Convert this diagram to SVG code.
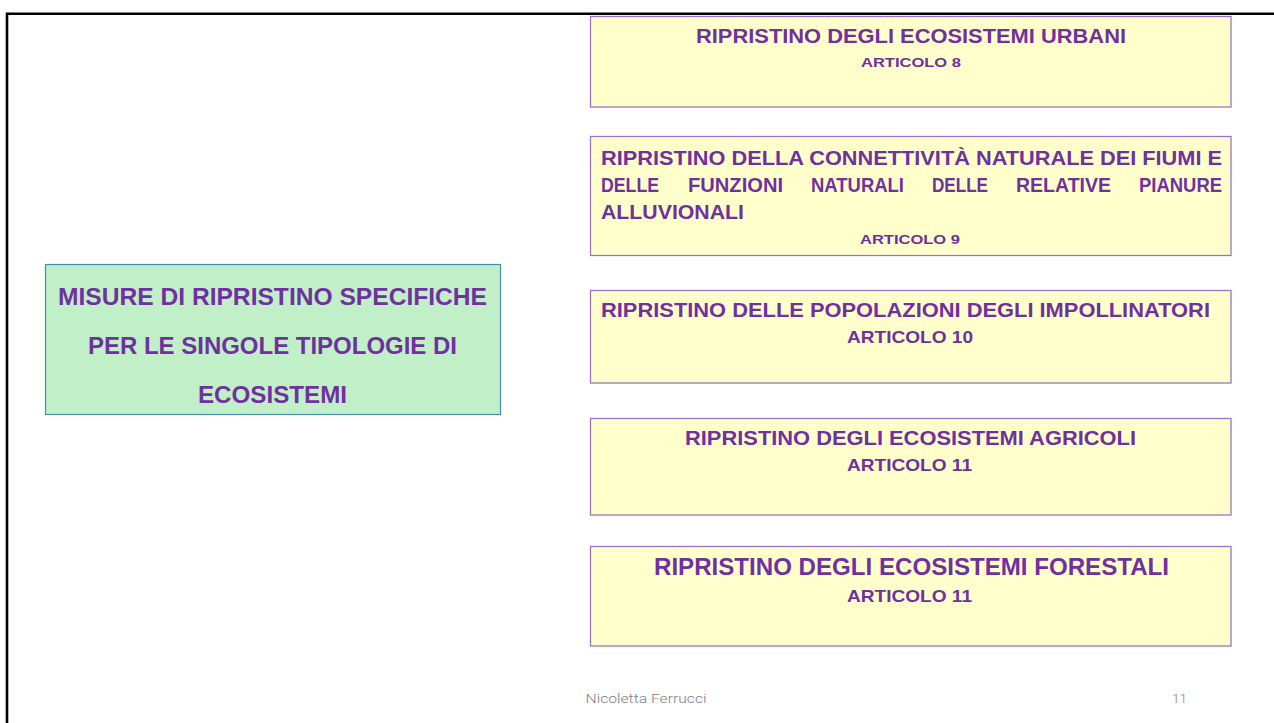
<svg xmlns="http://www.w3.org/2000/svg" width="1274" height="723" viewBox="0 0 1274 723">
  <style>
    .ybox { fill: #ffffcc; stroke: #9e72c6; stroke-width: 1.3; }
    .gbox { fill: #c1f0c8; stroke: #3e8fb0; stroke-width: 1.2; }
    .t { font-family: "Liberation Sans", Arial, sans-serif; font-weight: bold; fill: #7030a0; }
    .foot { font-family: Roboto, "Liberation Sans", sans-serif; font-weight: 300; fill: #808080; font-size: 13px; }
  </style>
  <rect width="1274" height="723" fill="#ffffff"/>
  <g id="frame">
    <path d="M7 723 V13.8 H1274" fill="none" stroke="#000" stroke-width="2.6"/>
  </g>
  <g id="connectors"></g>
  <g id="main">
    <rect class="gbox" x="45.5" y="264.5" width="455" height="150"/>
    <text class="t" x="58" y="305" font-size="23.5" textLength="429" lengthAdjust="spacingAndGlyphs">MISURE DI RIPRISTINO SPECIFICHE</text>
    <text class="t" x="88" y="354" font-size="23.5" textLength="369" lengthAdjust="spacingAndGlyphs">PER LE SINGOLE TIPOLOGIE DI</text>
    <text class="t" x="198" y="403" font-size="23.5" textLength="149" lengthAdjust="spacingAndGlyphs">ECOSISTEMI</text>
  </g>
  <g id="art8">
    <rect class="ybox" x="590.5" y="16.5" width="640.5" height="90.5"/>
    <text class="t" x="696" y="43" font-size="20" textLength="430" lengthAdjust="spacingAndGlyphs">RIPRISTINO DEGLI ECOSISTEMI URBANI</text>
    <text class="t" x="861" y="67" font-size="13" textLength="100" lengthAdjust="spacingAndGlyphs">ARTICOLO 8</text>
  </g>
  <g id="art9">
    <rect class="ybox" x="590.5" y="136.5" width="640.5" height="119"/>
    <text class="t" x="601" y="165" font-size="20" textLength="621" lengthAdjust="spacingAndGlyphs">RIPRISTINO DELLA CONNETTIVITÀ NATURALE DEI FIUMI E</text>
    <text class="t" y="192" font-size="20">
      <tspan x="601" textLength="58" lengthAdjust="spacingAndGlyphs">DELLE</tspan>
      <tspan x="688" textLength="95" lengthAdjust="spacingAndGlyphs">FUNZIONI</tspan>
      <tspan x="811" textLength="93" lengthAdjust="spacingAndGlyphs">NATURALI</tspan>
      <tspan x="932" textLength="56" lengthAdjust="spacingAndGlyphs">DELLE</tspan>
      <tspan x="1016" textLength="95" lengthAdjust="spacingAndGlyphs">RELATIVE</tspan>
      <tspan x="1139" textLength="83" lengthAdjust="spacingAndGlyphs">PIANURE</tspan>
    </text>
    <text class="t" x="601" y="219" font-size="20" textLength="143" lengthAdjust="spacingAndGlyphs">ALLUVIONALI</text>
    <text class="t" x="860" y="244" font-size="13" textLength="100" lengthAdjust="spacingAndGlyphs">ARTICOLO 9</text>
  </g>
  <g id="art10">
    <rect class="ybox" x="590.5" y="290.5" width="640.5" height="92.5"/>
    <text class="t" x="601" y="316.7" font-size="20" textLength="609" lengthAdjust="spacingAndGlyphs">RIPRISTINO DELLE POPOLAZIONI DEGLI IMPOLLINATORI</text>
    <text class="t" x="847" y="342.5" font-size="17" textLength="126" lengthAdjust="spacingAndGlyphs">ARTICOLO 10</text>
  </g>
  <g id="art11a">
    <rect class="ybox" x="590.5" y="418.5" width="640.5" height="96.5"/>
    <text class="t" x="685" y="445" font-size="20" textLength="451" lengthAdjust="spacingAndGlyphs">RIPRISTINO DEGLI ECOSISTEMI AGRICOLI</text>
    <text class="t" x="847" y="470.5" font-size="17" textLength="125" lengthAdjust="spacingAndGlyphs">ARTICOLO 11</text>
  </g>
  <g id="art11b">
    <rect class="ybox" x="590.5" y="546.5" width="640.5" height="99.5"/>
    <text class="t" x="654" y="575" font-size="23" textLength="515" lengthAdjust="spacingAndGlyphs">RIPRISTINO DEGLI ECOSISTEMI FORESTALI</text>
    <text class="t" x="847" y="601.5" font-size="17" textLength="125" lengthAdjust="spacingAndGlyphs">ARTICOLO 11</text>
  </g>
  <g id="footer">
    <text class="foot" x="585.5" y="703.3" textLength="121" lengthAdjust="spacingAndGlyphs">Nicoletta Ferrucci</text>
    <text class="foot" x="1172" y="703.3" textLength="15" lengthAdjust="spacingAndGlyphs">11</text>
  </g>
</svg>
